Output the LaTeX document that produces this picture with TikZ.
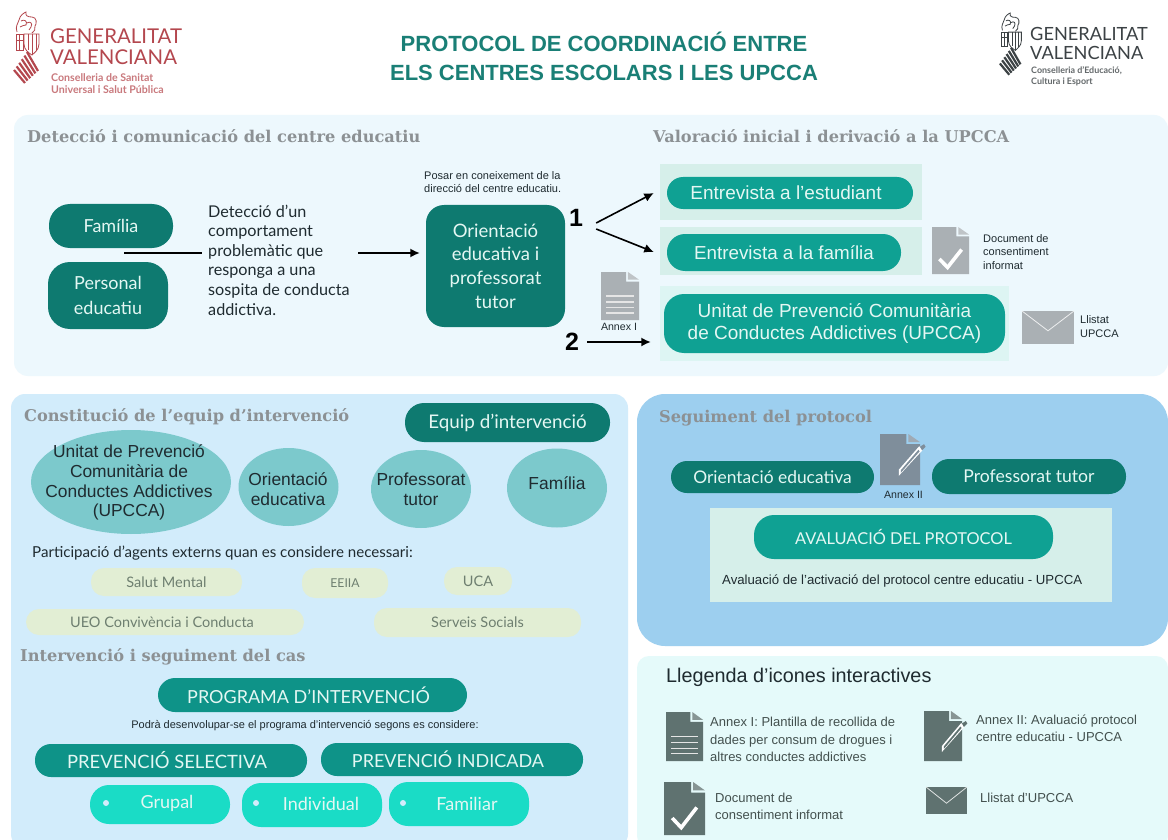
\documentclass[tikz,border=0pt]{standalone}
\usepackage{fontspec}
\usetikzlibrary{shapes.geometric,arrows.meta}
\setmainfont{Liberation Sans}
\newfontfamily\hum{Lato}
\newfontfamily\slab{DejaVu Serif}
\definecolor{pTop}{HTML}{EDF8FD}
\definecolor{pLeft}{HTML}{D2ECFB}
\definecolor{pRight}{HTML}{9DCFEF}
\definecolor{pLeg}{HTML}{E5FAFA}
\definecolor{dark}{HTML}{0E7A70}
\definecolor{mid}{HTML}{0FA193}
\definecolor{mid2}{HTML}{0E9388}
\definecolor{bright}{HTML}{1ADCC6}
\definecolor{ell}{HTML}{7CC9CC}
\definecolor{cream}{HTML}{E2EED4}
\definecolor{creamtx}{HTML}{6E7F70}
\definecolor{band}{HTML}{D6EFEA}
\definecolor{band2}{HTML}{DDF5F3}
\definecolor{head}{HTML}{8C9194}
\definecolor{igrey}{HTML}{AAB0B4}
\definecolor{islate}{HTML}{7F8E9B}
\definecolor{ileg}{HTML}{5F7270}
\definecolor{ptxt}{HTML}{E4F7F3}
\definecolor{ink}{HTML}{1F2B30}
\definecolor{titlec}{HTML}{1A7F76}
\definecolor{logored}{HTML}{B4474E}
\definecolor{logopink}{HTML}{C9797D}
\definecolor{logoblack}{HTML}{3C4245}
\tikzset{
  boxbase/.style={inner sep=0pt,align=center,text=ptxt},
  darkbox/.style={boxbase,fill=dark},
  midbox/.style={boxbase,fill=mid},
  mid2box/.style={boxbase,fill=mid2},
  brightbox/.style={boxbase,fill=bright,rounded corners=19pt},
  creambox/.style={boxbase,fill=cream,text=creamtx,rounded corners=13pt,font=\hum\fontsize{14.5}{16}\selectfont},
  panel/.style={inner sep=0pt},
  heading/.style={anchor=west,inner sep=0pt,text=head,font=\slab\bfseries\fontsize{16.2}{18}\selectfont},
  plain/.style={anchor=west,inner sep=0pt,align=left,text=ink},
  roundel/.style={ellipse,fill=ell,inner sep=0pt},
  roundtx/.style={inner sep=0pt,align=center,text=ink,font=\fontsize{17.4}{19.8}\selectfont},
  conn/.style={draw=black,line width=1.6pt},
  arr/.style={conn,-{Latex[length=9.5pt,width=9pt]}},
  bullet/.style={circle,fill=pLeft,minimum size=6pt,inner sep=0pt},
}
\newcommand{\boxat}[7]{\node[#6,minimum width={1pt*(#4-#2)},minimum height={1pt*(#5-#3)}] (#1) at ({(#2+#4)/2},{(#3+#5)/2}) {#7};}
\newcommand{\docicon}[6]{%
  \begin{scope}[shift={(#1,#2)},x={1pt*(#3-#1)},y={1pt*(#2-#4)}]
    \fill[#5] (0,0) -- (.66,0) -- (.66,.2) -- (1,.2) -- (1,1) -- (0,1) -- cycle;
    \fill[#5!75] (.71,0) -- (1,.16) -- (.71,.16) -- cycle;
    #6
  \end{scope}}
\newcommand{\doclines}{\foreach \v in {.5,.62,.74,.85}{\draw[white!90!black,line width=1.5pt] (.14,\v) -- (.86,\v);}}
\newcommand{\doccheck}{\draw[white,line width=3.6pt] (.2,.68) -- (.42,.86) -- (.8,.48);}
\newcommand{\docpen}[1]{\fill[white] (.47,.82) -- (.47,.7) -- (.98,.24) -- (1.06,.32) -- cycle;
  \fill[#1] (.52,.76) -- (.52,.71) -- (.96,.31) -- (.99,.34) -- cycle;
  \fill[#1] (1.0,.25) -- (1.1,.2) -- (1.14,.25) -- (1.05,.32) -- cycle;}
\newcommand{\envel}[5]{%
  \begin{scope}[shift={(#1,#2)},x={1pt*(#3-#1)},y={1pt*(#2-#4)}]
    \fill[#5] (0,0) rectangle (1,1);
    \draw[white!80!#5,line width=.8pt] (0,0) -- (.5,.6) -- (1,0);
  \end{scope}}
\newcommand{\crest}[5]{%
  \begin{scope}[shift={(#1,#2)},x={#3*1pt},y={-#4*1pt},#5,line width=.8pt]
    \draw (4,20) .. controls (2,14) and (5,12) .. (6,8) .. controls (7,3) and (11,1) .. (13,0)
      .. controls (12,4) and (15,5) .. (19,5) .. controls (24,5) and (24,12) .. (22,14)
      .. controls (23,17) and (21,20) .. (19,21);
    \draw (8,9) .. controls (11,7) and (15,9) .. (13,13) .. controls (11,15) and (9,12) .. (7,15);
    \draw (14,11) .. controls (17,9) and (20,11) .. (18,15) -- (16,18);
    \draw (3,22) rectangle (10,38);
    \draw (6.5,22) -- (6.5,38) (3,28) -- (10,28);
    \draw (11,22) -- (26,22) -- (26,32) .. controls (26,38) and (21,41) .. (19,43) .. controls (16,41) and (11,38) .. (11,32) -- cycle;
    \draw (15,22) -- (15,38) (19,22) -- (19,43) (23,22) -- (23,39);
    \foreach \k in {0,1,2,3,4,5}{
      \draw[line width=2.2pt] ({1+\k*2.6},{58-\k*3.6}) -- ({12+\k*2.6},{71-\k*2.4});
    }
  \end{scope}}
\begin{document}
\begin{tikzpicture}[x=1pt,y=-1pt]
\useasboundingbox (0,0) rectangle (1168,840);
\fill[white] (0,0) rectangle (1168,840);

% panels
\begin{scope}
\clip (0,0) rectangle (1168,840);
\boxat{panelTop}{14}{115}{1168}{376}{panel,fill=pTop,rounded corners=14pt}{}
\boxat{panelLeft}{11}{394}{628}{848}{panel,fill=pLeft,rounded corners=14pt}{}
\boxat{panelRight}{637}{394}{1168}{646}{panel,fill=pRight,rounded corners=28pt}{}
\boxat{panelLeg}{637}{656}{1168}{848}{panel,fill=pLeg,rounded corners=12pt}{}
\end{scope}

% left logo
\crest{13}{12}{1}{1}{logored,draw=logored}
\node[plain,text=logored,font=\hum\fontsize{20.4}{21}\selectfont] (logoA1) at (50,36) {GENERALITAT};
\node[plain,text=logored,font=\hum\fontsize{20.4}{21}\selectfont] (logoA2) at (50,57) {VALENCIANA};
\node[plain,text=logopink,font=\hum\bfseries\fontsize{10.6}{12}\selectfont] (logoA3) at (51,84) {Conselleria de Sanitat\\Universal i Salut Pública};

% right logo
\crest{999}{13}{.86}{.87}{logoblack,draw=logoblack}
\node[plain,text=logoblack,font=\hum\fontsize{18.2}{19}\selectfont] (logoB1) at (1030,34) {GENERALITAT};
\node[plain,text=logoblack,font=\hum\fontsize{18.2}{19}\selectfont] (logoB2) at (1030,53) {VALENCIANA};
\node[plain,text=logoblack!80,font=\hum\bfseries\fontsize{8.9}{10.8}\selectfont] (logoB3) at (1031,76.5) {Conselleria d’Educació,\\Cultura i Esport};

% title
\node[inner sep=0pt,align=center,text=titlec,font=\bfseries\fontsize{22}{29}\selectfont] (title) at (604,56.5) {PROTOCOL DE COORDINACIÓ ENTRE\\ELS CENTRES ESCOLARS I LES UPCCA};

% top panel
\node[heading] (h1) at (27,136) {Detecció i comunicació del centre educatiu};
\node[heading] (h2) at (653,136) {Valoració inicial i derivació a la UPCCA};

\boxat{fam}{49}{204}{173}{248}{darkbox,rounded corners=21pt,font=\hum\fontsize{18}{24}\selectfont}{Família}
\boxat{pers}{48}{262}{168}{329}{darkbox,rounded corners=22pt,font=\hum\fontsize{18}{24.5}\selectfont}{Personal\\educatiu}
\node[plain,font=\hum\fontsize{16.2}{19.6}\selectfont] (det) at (208,260) {Detecció d’un\\comportament\\problemàtic que\\responga a una\\sospita de conducta\\addictiva.};
\boxat{ori}{426}{205}{565}{327}{darkbox,rounded corners=18pt,font=\hum\fontsize{18.5}{23.7}\selectfont}{Orientació\\educativa i\\professorat\\tutor}
\node[plain,font=\fontsize{11}{13}\selectfont] (posar) at (424,182.5) {Posar en coneixement de la\\direcció del centre educatiu.};
\node[inner sep=0pt,text=black,font=\bfseries\fontsize{25}{28}\selectfont] (one) at (576,218) {1};
\node[inner sep=0pt,text=black,font=\bfseries\fontsize{25}{28}\selectfont] (two) at (572,342) {2};

\boxat{bandA}{660}{164}{922}{220}{panel,fill=band}{}
\boxat{bandB}{660}{227}{922}{275}{panel,fill=band}{}
\boxat{bandC}{660}{286}{1009}{361}{panel,fill=band2}{}
\boxat{estud}{667}{177}{913}{209}{midbox,rounded corners=16pt,font=\fontsize{19}{22}\selectfont}{\hspace*{-8pt}Entrevista a l’estudiant}
\boxat{famil}{667}{234}{901}{271}{midbox,rounded corners=18pt,font=\fontsize{18.8}{22}\selectfont}{Entrevista a la família}
\boxat{upcca}{664}{294}{1005}{353}{midbox,rounded corners=20pt,font=\fontsize{19}{22.2}\selectfont}{Unitat de Prevenció Comunitària\\de Conductes Addictives (UPCCA)}

\coordinate (lineStart) at (124,253);
\coordinate (arrowStart) at (358,253);
\draw[conn] (lineStart) -- ([xshift=-6pt]lineStart -| det.west);
\draw[arr] (arrowStart) -- ([xshift=-6pt]arrowStart -| ori.west);
\draw[arr] ([shift={(13,5)}]one.east) -- ([shift={(-6,1)}]bandA.west);
\draw[arr] ([shift={(13,11)}]one.east) -- ([shift={(-6,1)}]bandB.west);
\draw[arr] ([xshift=8pt]two.east) -- ([xshift=-9pt]two.east -| bandC.west);

\docicon{932}{227}{969}{274}{igrey}{\doccheck}
\node[plain,font=\fontsize{11}{13.4}\selectfont] (docA) at (983,252) {Document de\\consentiment\\informat};
\docicon{601}{272}{639}{320}{igrey}{\doclines}
\node[inner sep=0pt,text=ink,font=\fontsize{10.6}{12}\selectfont] (annA) at (619,327) {Annex I};
\envel{1022}{311}{1074}{344}{igrey}
\node[plain,font=\fontsize{11}{13.4}\selectfont] (llA) at (1080,326.5) {Llistat\\UPCCA};

% left panel
\node[heading] (h3) at (24,417) {Constitució de l’equip d’intervenció};
\boxat{equip}{405}{403}{610}{442}{darkbox,rounded corners=19pt,font=\hum\fontsize{18.8}{21}\selectfont}{Equip d’intervenció}
\node[roundel,minimum width=200pt,minimum height=104pt] (e1) at (131,482) {};
\node[roundel,minimum width=100pt,minimum height=78pt] (e2) at (288.5,487) {};
\node[roundel,minimum width=100pt,minimum height=78pt] (e3) at (421,489) {};
\node[roundel,minimum width=100pt,minimum height=79pt] (e4) at (557,488) {};
\node[roundtx] (t1) at (129,482.5) {Unitat de Prevenció\\Comunitària de\\Conductes Addictives\\(UPCCA)};
\node[roundtx] (t2) at (288,489) {Orientació\\educativa};
\node[roundtx] (t3) at (421,489) {Professorat\\tutor};
\node[roundtx] (t4) at (557,483) {Família};
\node[plain,font=\hum\fontsize{15.1}{17}\selectfont] (part) at (32,553) {Participació d’agents externs quan es considere necessari:};
\boxat{c1}{91}{568}{242}{596}{creambox}{Salut Mental}
\boxat{c2}{302}{568}{388}{598}{creambox,font=\hum\fontsize{12.2}{14}\selectfont}{EEIIA}
\boxat{c3}{444}{567}{512}{595}{creambox}{UCA}
\boxat{c4}{26}{609}{304}{635}{creambox}{\hspace*{-6pt}UEO Convivència i Conducta}
\boxat{c5}{374}{608}{581}{637}{creambox}{Serveis Socials}
\node[heading] (h4) at (20,657) {Intervenció i seguiment del cas};
\boxat{prog}{158}{678}{467}{712}{mid2box,rounded corners=17pt,font=\hum\fontsize{18}{22}\selectfont}{\hspace*{-8pt}PROGRAMA D’INTERVENCIÓ}
\node[inner sep=0pt,text=ink,font=\fontsize{11}{13}\selectfont] (pod) at (305,726) {Podrà desenvolupar-se el programa d’intervenció segons es considere:};
\boxat{sel}{35}{744}{307}{777}{mid2box,rounded corners=16pt,font=\hum\fontsize{18.4}{22}\selectfont}{\hspace*{-8pt}PREVENCIÓ SELECTIVA}
\boxat{ind}{321}{743}{583}{776}{mid2box,rounded corners=16pt,font=\hum\fontsize{18}{22}\selectfont}{\hspace*{-8pt}PREVENCIÓ INDICADA}
\boxat{gru}{90}{785}{230}{824}{brightbox}{}
\boxat{indv}{242}{783}{382}{827}{brightbox}{}
\boxat{fami}{389}{782}{529}{826}{brightbox}{}
\node[bullet] (b1) at (106,803) {};
\node[bullet] (b2) at (256,803) {};
\node[bullet] (b3) at (403,803) {};
\node[inner sep=0pt,text=ptxt,font=\hum\fontsize{18}{22}\selectfont] (tb1) at (167,803.5) {Grupal};
\node[inner sep=0pt,text=ptxt,font=\hum\fontsize{18}{22}\selectfont] (tb2) at (321,803.5) {Individual};
\node[inner sep=0pt,text=ptxt,font=\hum\fontsize{18}{22}\selectfont] (tb3) at (467,803.5) {Familiar};

% right panel
\node[heading] (h5) at (659,418) {Seguiment del protocol};
\boxat{oriB}{671}{461}{874}{493}{darkbox,rounded corners=16pt,font=\hum\fontsize{17.4}{21}\selectfont}{Orientació educativa}
\boxat{prof}{932}{459}{1126}{494}{darkbox,rounded corners=17pt,font=\hum\fontsize{17.6}{21}\selectfont}{Professorat tutor}
\docicon{880}{434}{920}{485}{islate}{\docpen{islate}}
\node[inner sep=0pt,text=ink,font=\fontsize{10.6}{12}\selectfont] (annB) at (903.5,495) {Annex II};
\boxat{bandD}{710}{508}{1112}{602}{panel,fill=band}{}
\boxat{aval}{754}{515}{1053}{559}{midbox,rounded corners=20pt,font=\hum\fontsize{16.4}{20}\selectfont}{AVALUACIÓ DEL PROTOCOL}
\node[plain,font=\fontsize{13.2}{15}\selectfont] (avalT) at (722,581) {Avaluació de l’activació del protocol centre educatiu - UPCCA};

% legend
\node[plain,font=\fontsize{19.8}{23}\selectfont] (leg) at (666,677) {Llegenda d’icones interactives};
\docicon{666}{712}{703}{761}{ileg}{\doclines}
\node[plain,text=ileg!70!black,font=\fontsize{13}{17.4}\selectfont] (lg1) at (710,739.5) {Annex I: Plantilla de recollida de\\dades per consum de drogues i\\altres conductes addictives};
\docicon{924}{711}{962}{761}{ileg}{\docpen{ileg}}
\node[plain,text=ileg!70!black,font=\fontsize{13}{17.4}\selectfont] (lg2) at (976,728.5) {Annex II: Avaluació protocol\\centre educatiu - UPCCA};
\docicon{664}{782}{705}{835}{ileg}{\doccheck}
\node[plain,text=ileg!70!black,font=\fontsize{13}{17.4}\selectfont] (lg3) at (715,806.5) {Document de\\consentiment informat};
\envel{926}{787}{967}{814}{ileg}
\node[plain,text=ileg!70!black,font=\fontsize{13}{17.4}\selectfont] (lg4) at (980,798) {Llistat d’UPCCA};
\end{tikzpicture}
\end{document}
